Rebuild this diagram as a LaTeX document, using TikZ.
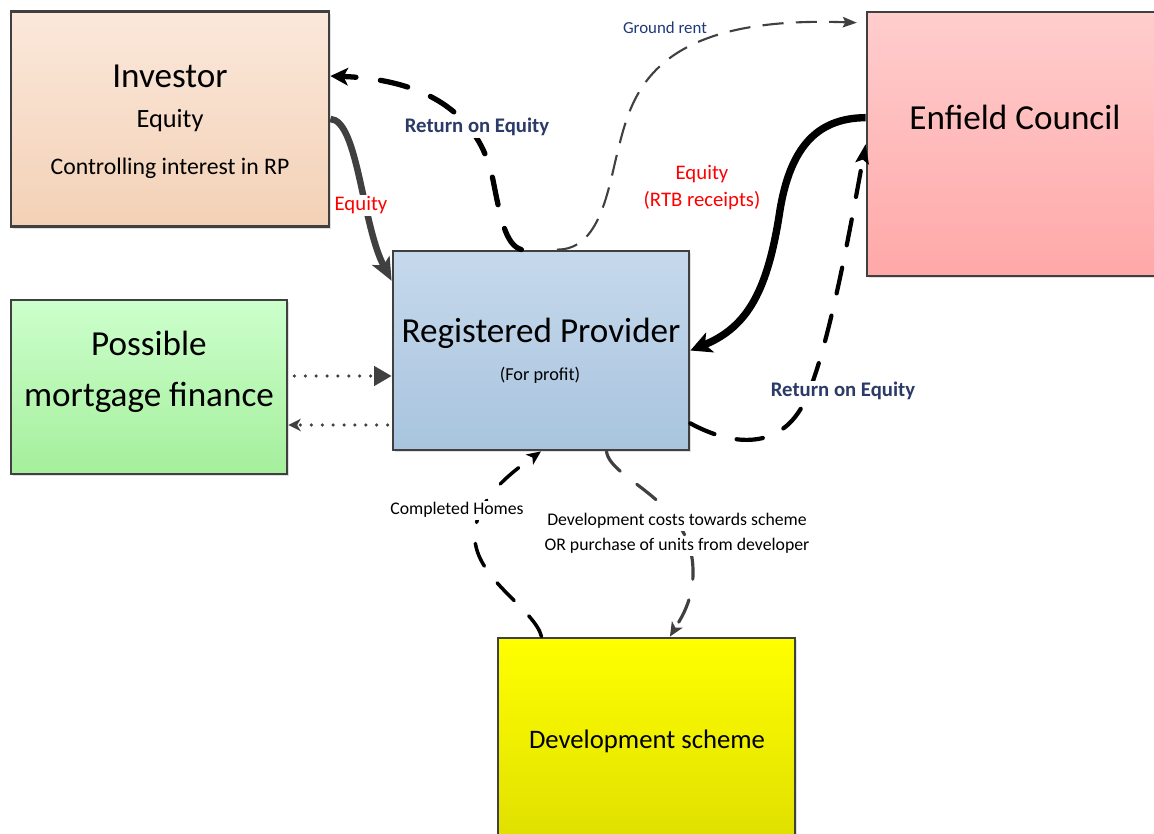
\documentclass[tikz,border=0pt]{standalone}
\usepackage{fontspec}
\setmainfont{Carlito}
\usetikzlibrary{arrows.meta}
\usetikzlibrary{calc}
\usetikzlibrary{shadows}
\definecolor{edge}{HTML}{404040}
\definecolor{navy}{HTML}{2B3A67}
\definecolor{rentblue}{HTML}{1F3A78}
\definecolor{invtop}{HTML}{FBE8DB}
\definecolor{invbot}{HTML}{F3D1B6}
\definecolor{ectop}{HTML}{FFCDCD}
\definecolor{ecbot}{HTML}{FFA8A8}
\definecolor{rptop}{HTML}{C6D9EC}
\definecolor{rpbot}{HTML}{A8C4DE}
\definecolor{mftop}{HTML}{CCFFCC}
\definecolor{mfbot}{HTML}{A5EF9C}
\definecolor{devtop}{HTML}{FFFF00}
\definecolor{devbot}{HTML}{E0E000}
\tikzset{box/.style = {draw=edge, line width=1.6pt, inner sep=0pt,
                       drop shadow={shadow xshift=1.2pt, shadow yshift=-1.2pt, opacity=0.25}},
         big/.style = {font=\fontsize{20}{24}\selectfont},
         mid/.style = {font=\fontsize{15}{18}\selectfont},
         roe/.style = {font=\bfseries\fontsize{11.8}{14}\selectfont, text=navy, fill=white, inner sep=1pt},
         money/.style = {font=\fontsize{11.8}{14}\selectfont, text=red, fill=white, inner sep=1pt},
         note/.style = {font=\fontsize{10.1}{13}\selectfont, fill=white, inner sep=1pt},
         dashflow/.style = {line cap=round, dash pattern=on 14pt off 12pt},
         dotflow/.style = {edge, line width=2pt, line cap=round, dash pattern=on 0pt off 6.2pt}}

\begin{document}
\begin{tikzpicture}[x=0.02cm, y=-0.02cm]
  \fill[white] (0,0) rectangle (1154,834);
  \useasboundingbox (0,0) rectangle (1154,834);

  % boxes
  \node[box, top color=invtop, bottom color=invbot, minimum width=6.36cm, minimum height=4.30cm] (inv) at (170,119) {};
  \node[box, top color=ectop, bottom color=ecbot, minimum width=5.92cm, minimum height=5.28cm] (ec) at (1015,144) {};
  \node[box, top color=rptop, bottom color=rpbot, minimum width=5.92cm, minimum height=3.98cm] (rp) at (541,350.5) {};
  \node[box, top color=mftop, bottom color=mfbot, minimum width=5.52cm, minimum height=3.48cm] (mf) at (149,387) {};
  \node[box, top color=devtop, bottom color=devbot, minimum width=5.94cm, minimum height=4.00cm] (dev) at (646.5,738) {};

  \node[big, anchor=base] (invname) at (170,88) {Investor};
  \node[mid, anchor=base] (inveq) at (170,128) {Equity};
  \node[font=\fontsize{13.5}{16}\selectfont, anchor=base] (invctl) at (170,175) {Controlling interest in RP};
  \node[big, anchor=base] (ecname) at (1015,130) {Enfield Council};
  \node[big, anchor=base] (rpname) at (541,343) {Registered Provider};
  \node[font=\fontsize{10.4}{12}\selectfont, anchor=base] (rpnote) at (540,381) {(For profit)};
  \node[big, anchor=base] (mfname) at (149,356) {Possible};
  \node[big, anchor=base] (mfname2) at (149,407) {mortgage finance};
  \node[font=\fontsize{15.2}{18}\selectfont, anchor=base] (devname) at (647,748) {Development scheme};

  % flows
  \draw[edge, line width=3.7pt, -{Stealth[length=13pt, width=11pt, inset=3pt]}]
    (inv.east) .. controls (358,120) and (362,225) .. (rp.155.5);
  \draw[black, line width=3pt, dashflow, dash pattern=on 16pt off 14pt,
        -{Stealth[length=10pt, width=10pt, inset=2.5pt]}]
    (rp.101) .. controls (505,245) and (500,215) .. (493,180)
             .. controls (482,125) and (440,80) .. (inv.15);
  \draw[black, line width=4.2pt, -{Stealth[length=12pt, width=12pt, inset=3pt]}]
    (ec.170) .. controls (815,118) and (790,150) .. (780,210)
             .. controls (768,290) and (748,327) .. (rp.east);
  \draw[black, line width=2.4pt, dashflow, dash pattern=on 15pt off 13pt,
        -{Stealth[length=11pt, width=7.5pt, inset=2pt]}]
    (rp.-26) .. controls (730,445) and (775,450) .. (800,410)
             .. controls (825,370) and (850,230) .. (ec.west);
  \draw[edge, line width=1.2pt, dash pattern=on 12pt off 7pt, shorten >=5pt,
        -{Stealth[length=8pt, width=6pt, inset=1.5pt]}]
    (rp.81) .. controls (600,250) and (608,190) .. (618,150)
            .. controls (632,95) and (650,15) .. (ec.141);
  \draw[black, line width=2pt, dashflow, -{Stealth[length=8pt, width=7pt, inset=2pt]}]
    (dev.136) .. controls (535,610) and (478,580) .. (475,540)
              .. controls (472,500) and (515,470) .. (rp.south);
  \draw[edge, line width=1.8pt, dashflow, -{Stealth[length=8pt, width=7pt, inset=2pt]}]
    (rp.-57) .. controls (610,480) and (692,500) .. (693,570)
             .. controls (694,600) and (680,620) .. (dev.77);
  \draw[dotflow, -{Triangle[length=10pt, width=11pt]}]
    ($(mf.east)+(6,-11)$) -- ($(rp.west)+(0,25.5)$);
  \draw[dotflow, -{Stealth[length=7pt, width=7pt, inset=2pt]}]
    ($(rp.west)+(-4,74.5)$) -- ($(mf.east)+(0,38)$);

  % flow labels
  \node[roe, anchor=base] (roeinv) at (477,133) {Return on Equity};
  \node[roe, anchor=base] (roeec) at (843,397) {Return on Equity};
  \node[font=\fontsize{9.6}{12}\selectfont, text=rentblue, anchor=base] (rent) at (665,34) {Ground rent};
  \node[money, anchor=base] (eqinv) at (361,211) {Equity};
  \node[money, anchor=base] (eqec) at (702,180) {Equity};
  \node[money, anchor=base] (rtb) at (702,207) {(RTB receipts)};
  \node[note, anchor=base] (homes) at (457,515) {Completed Homes};
  \node[note, anchor=base] (costs) at (677,526) {Development costs towards scheme};
  \node[note, anchor=base] (units) at (677,551) {OR purchase of units from developer};
\end{tikzpicture}
\end{document}
